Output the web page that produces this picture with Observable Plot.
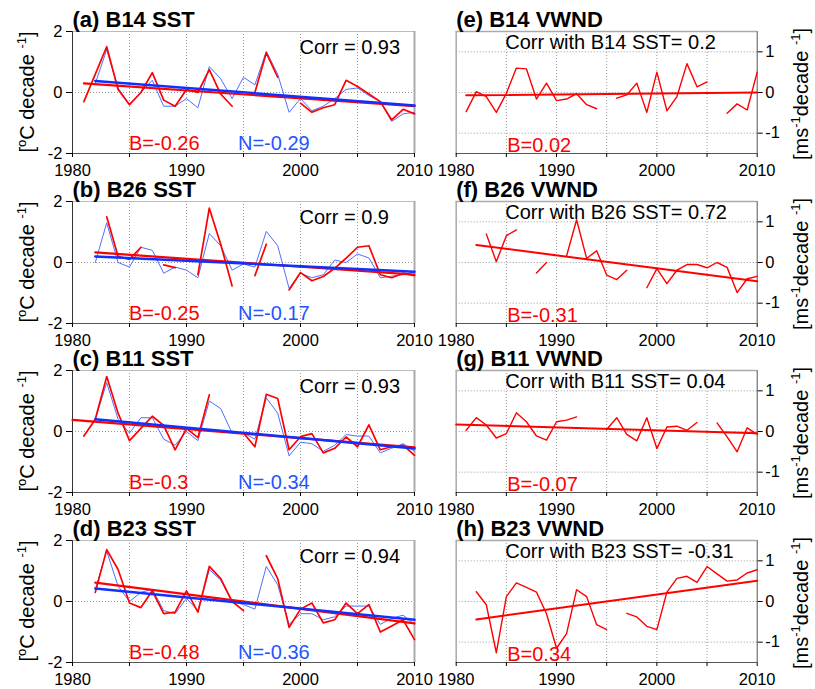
<!DOCTYPE html>
<html><head><meta charset="utf-8">
<script src="https://cdn.jsdelivr.net/npm/d3@7"></script>
<script src="https://cdn.jsdelivr.net/npm/@observablehq/plot@0.6"></script>
<style>
body{margin:0;background:#fff;}
#wrap{position:relative;width:815px;height:689px;overflow:hidden;background:#fff;font-family:"Liberation Sans",Arial,Helvetica,sans-serif;color:#000;}
#wrap svg{position:absolute;overflow:visible;}
.ylab{position:absolute;white-space:nowrap;font-size:20px;line-height:1;transform:translate(-50%,-50%) rotate(-90deg);}
.ylab .sp{font-size:13px;position:relative;top:-8px;}
</style>
</head><body>
<div id="wrap"></div>
<script>
// ---------- data ----------
const years = [1980,1981,1982,1983,1984,1985,1986,1987,1988,1989,1990,1991,1992,1993,1994,1995,1996,1997,1998,1999,2000,2001,2002,2003,2004,2005,2006,2007,2008,2009,2010];
const tickYears = [1980,1985,1990,1995,2000,2005,2010];
const labelYears = [1980,1990,2000,2010];
const gridYears = [1985,1990,1995,2000,2005];
const sstTicks = [-2,0,2];
const vwndTicks = [-1,0,1];

// (a) B14 SST
const a_B = [null,-0.3,0.6,1.5,0.1,-0.4,0.0,0.65,-0.25,-0.45,0.1,0.0,0.75,-0.05,-0.45,null,0.0,1.3,0.5,null,-0.35,-0.65,-0.5,-0.4,0.4,0.2,-0.05,-0.3,-0.9,-0.55,-0.7];
const a_N = [null,null,0.3,1.4,0.15,-0.4,0.0,0.4,-0.45,-0.45,-0.2,-0.5,0.85,0.45,-0.2,0.5,0.25,1.35,0.6,-0.65,-0.2,-0.6,-0.45,-0.2,0.1,0.15,-0.1,-0.3,-0.95,-0.7,-0.65];
const a_trendB = [[1981,0.3],[2010,-0.45]];
const a_trendN = [[1982,0.38],[2010,-0.43]];
// (b) B26 SST
const b_B = [null,null,null,1.5,0.2,0.1,0.5,null,-0.08,-0.17,null,-0.4,1.78,0.6,-0.77,null,-0.43,0.6,null,-0.9,-0.33,-0.6,-0.46,-0.19,0.14,0.5,0.55,-0.4,-0.5,-0.35,-0.43];
const b_N = [null,null,0.0,1.3,0.0,-0.15,0.5,0.4,-0.35,-0.15,-0.25,-0.5,0.95,0.55,-0.25,-0.05,-0.15,1.02,0.55,-0.85,-0.35,-0.5,-0.4,0.08,0.0,0.28,0.15,-0.5,-0.45,-0.4,-0.3];
const b_trendB = [[1982,0.33],[2010,-0.4]];
const b_trendN = [[1982,0.2],[2010,-0.3]];
// (c) B11 SST
const c_B = [null,-0.15,0.4,1.8,0.6,-0.3,0.1,0.5,0.2,-0.6,0.1,-0.2,1.2,null,null,-0.05,-0.5,1.22,1.08,-0.6,-0.17,-0.07,-0.7,-0.55,-0.18,-0.5,0.22,-0.6,-0.5,-0.45,-0.78];
const c_N = [null,null,0.4,1.6,0.4,-0.05,0.45,0.45,-0.25,-0.45,0.0,-0.3,1.0,0.75,-0.05,-0.05,-0.25,1.1,0.6,-0.8,-0.35,-0.4,-0.65,-0.45,-0.1,-0.15,-0.15,-0.7,-0.55,-0.4,-0.65];
const c_trendB = [[1980,0.38],[2010,-0.52]];
const c_trendN = [[1982,0.4],[2010,-0.56]];
// (d) B23 SST
const d_B = [null,null,0.3,1.7,1.05,-0.05,-0.2,0.35,-0.4,-0.35,0.35,-0.35,1.15,0.75,0.0,-0.3,null,1.5,0.75,-0.85,-0.25,-0.05,-0.7,-0.6,-0.05,-0.4,-0.1,-1.0,-0.8,-0.6,-1.25];
const d_N = [null,null,0.4,1.65,0.5,0.0,0.3,0.4,-0.3,-0.4,0.1,-0.3,1.05,0.7,0.0,-0.1,-0.25,1.15,0.55,-0.75,-0.4,-0.4,-0.6,-0.5,-0.15,-0.15,-0.15,-0.75,-0.55,-0.45,-0.75];
const d_trendB = [[1982,0.62],[2010,-0.72]];
const d_trendN = [[1982,0.43],[2010,-0.6]];
// (e) B14 VWND
const e_B = [null,-0.47,0.02,-0.1,-0.49,-0.02,0.6,0.58,-0.16,0.23,-0.2,-0.16,-0.03,-0.3,-0.4,null,-0.14,-0.06,0.23,-0.49,0.5,-0.45,-0.1,0.71,0.14,0.26,null,-0.51,-0.28,-0.43,0.5];
const e_trend = [[1981,-0.07],[2010,0.0]];
// (f) B26 VWND
const f_B = [null,null,null,0.7,0.02,0.66,0.8,null,-0.26,0.0,null,0.16,1.05,0.1,0.29,-0.31,-0.42,-0.19,null,-0.62,-0.15,-0.52,-0.19,-0.05,-0.05,-0.13,0.0,-0.12,-0.74,-0.4,-0.34];
const f_trend = [[1982,0.43],[2010,-0.46]];
// (g) B11 VWND
const g_B = [null,0.03,0.34,0.16,-0.16,-0.05,0.46,0.24,-0.11,-0.21,0.24,0.28,0.36,null,null,0.05,0.34,-0.07,-0.23,0.34,-0.42,0.11,0.13,0.03,0.22,null,0.21,-0.13,-0.5,0.09,-0.07];
const g_trend = [[1980,0.17],[2010,-0.04]];
// (h) B23 VWND
const h_B = [null,null,0.24,-0.08,-1.26,0.12,0.46,0.35,0.23,-0.3,-1.15,-0.79,0.29,0.12,-0.57,-0.69,null,-0.29,-0.38,-0.61,-0.69,0.23,0.57,0.62,0.47,0.86,0.68,0.5,0.53,0.7,0.78];
const h_trend = [[1982,-0.44],[2010,0.51]];

const sstTitles = ["(a) B14 SST","(b) B26 SST","(c) B11 SST","(d) B23 SST"];
const sstCorr = ["Corr = 0.93","Corr = 0.9","Corr = 0.93","Corr = 0.94"];
const sstBLabels = ["B=-0.26","B=-0.25","B=-0.3","B=-0.48"];
const sstNLabels = ["N=-0.29","N=-0.17","N=-0.34","N=-0.36"];
const vwndTitles = ["(e) B14 VWND","(f) B26 VWND","(g) B11 VWND","(h) B23 VWND"];
const vwndCorr = ["Corr with B14 SST= 0.2","Corr with B26 SST= 0.72","Corr with B11 SST= 0.04","Corr with B23 SST= -0.31"];
const vwndBLabels = ["B=0.02","B=-0.31","B=-0.07","B=0.34"];

const sstB = [a_B,b_B,c_B,d_B], sstN = [a_N,b_N,c_N,d_N];
const sstTrB = [a_trendB,b_trendB,c_trendB,d_trendB], sstTrN = [a_trendN,b_trendN,c_trendN,d_trendN];
const vwB = [e_B,f_B,g_B,h_B], vwTr = [e_trend,f_trend,g_trend,h_trend];

// ---------- drawing ----------
const RED = "#ff0000", BLUE_THIN = "#4f6fff", BLUE_TREND = "#1030ff", BLUE_TEXT = "#2255ff";
const GRID = {stroke:"#999", strokeDasharray:"1,2", strokeWidth:1};
const FONT = "'Liberation Sans', Arial, Helvetica, sans-serif";
const TICKFS = 16.5;
const STEP = 169.5;
const wrap = document.getElementById("wrap");
const num = v => v == null ? NaN : v;
const pts = arr => arr.map(([x,y]) => ({x, y}));
const fmtYear = d => labelYears.includes(d) ? String(d) : "";

function sstPanel(i){
  const rows = years.map((yr,k) => ({year: yr, b: num(sstB[i][k]), n: num(sstN[i][k])}));
  return Plot.plot({
    width: 420, height: 184, marginLeft: 72, marginRight: 6, marginTop: 31, marginBottom: 31,
    x: {domain: [1980, 2010]}, y: {domain: [-2, 2]},
    style: {fontFamily: FONT, fontSize: TICKFS + "px", color: "#000", background: "transparent", overflow: "visible"},
    marks: [
      Plot.ruleX(gridYears, GRID),
      Plot.ruleY([0], GRID),
      Plot.ruleY([2], {stroke: "#bbb"}),
      Plot.ruleX([2010], {stroke: "#aaa", strokeWidth: 2}),
      Plot.ruleX([1980], {stroke: "#333"}),
      Plot.ruleY([-2], {stroke: "#555"}),
      Plot.axisY({ticks: sstTicks, tickSize: 6, tickPadding: 4, fontSize: TICKFS, label: null, tickFormat: d => String(d)}),
      Plot.axisX({ticks: tickYears, tickSize: 4, tickPadding: 7, fontSize: TICKFS, label: null, tickFormat: fmtYear}),
      Plot.line(rows, {x: "year", y: "n", stroke: BLUE_THIN, strokeWidth: 1}),
      Plot.line(rows, {x: "year", y: "b", stroke: RED, strokeWidth: 1.7}),
      Plot.line(pts(sstTrB[i]), {x: "x", y: "y", stroke: RED, strokeWidth: 2.2}),
      Plot.line(pts(sstTrN[i]), {x: "x", y: "y", stroke: BLUE_TREND, strokeWidth: 2.5}),
      Plot.text([sstTitles[i]], {text: d => d, frameAnchor: "top-left", textAnchor: "start", lineAnchor: "bottom", dy: -5, fontSize: 22, fontWeight: "bold"}),
      Plot.text([sstCorr[i]], {text: d => d, frameAnchor: "top-left", textAnchor: "start", lineAnchor: "bottom", dx: 227, dy: 22, fontSize: 20}),
      Plot.text([sstBLabels[i]], {text: d => d, frameAnchor: "bottom-left", textAnchor: "start", lineAnchor: "bottom", dx: 56.5, dy: -3.5, fontSize: 20, fill: RED}),
      Plot.text([sstNLabels[i]], {text: d => d, frameAnchor: "bottom-left", textAnchor: "start", lineAnchor: "bottom", dx: 165.5, dy: -3.5, fontSize: 20, fill: BLUE_TEXT})
    ]
  });
}

function vwndPanel(i){
  const rows = years.map((yr,k) => ({year: yr, b: num(vwB[i][k])}));
  return Plot.plot({
    width: 395, height: 184, marginLeft: 35.7, marginRight: 58.3, marginTop: 31, marginBottom: 31,
    x: {domain: [1980, 2010]}, y: {domain: [-1.5, 1.5]},
    style: {fontFamily: FONT, fontSize: TICKFS + "px", color: "#000", background: "transparent", overflow: "visible"},
    marks: [
      Plot.ruleX(gridYears, GRID),
      Plot.ruleY(vwndTicks, GRID),
      Plot.ruleY([1.5], {stroke: "#aaa", strokeWidth: 1.5}),
      Plot.ruleX([1980], {stroke: "#aaa", strokeWidth: 1.5}),
      Plot.ruleX([2010], {stroke: "#555"}),
      Plot.ruleY([-1.5], {stroke: "#555"}),
      Plot.axisY({anchor: "right", ticks: vwndTicks, tickSize: 5, tickPadding: 3, fontSize: TICKFS, label: null, tickFormat: d => String(d)}),
      Plot.axisX({ticks: tickYears, tickSize: 4, tickPadding: 7, fontSize: TICKFS, label: null, tickFormat: fmtYear}),
      Plot.line(pts(vwTr[i]), {x: "x", y: "y", stroke: RED, strokeWidth: 2}),
      Plot.line(rows, {x: "year", y: "b", stroke: RED, strokeWidth: 1.4}),
      Plot.text([vwndTitles[i]], {text: d => d, frameAnchor: "top-left", textAnchor: "start", lineAnchor: "bottom", dy: -5, fontSize: 22, fontWeight: "bold"}),
      Plot.text([vwndCorr[i]], {text: d => d, frameAnchor: "top-left", textAnchor: "start", lineAnchor: "bottom", dx: 49, dy: 17, fontSize: 20}),
      Plot.text([vwndBLabels[i]], {text: d => d, frameAnchor: "bottom-left", textAnchor: "start", lineAnchor: "bottom", dx: 51, dy: -2, fontSize: 20, fill: RED})
    ]
  });
}

for (let i = 0; i < 4; i++) {
  const top = i * STEP;
  const l = sstPanel(i);
  l.style.left = "0px"; l.style.top = top + "px";
  wrap.appendChild(l);
  const r = vwndPanel(i);
  r.style.left = "420px"; r.style.top = top + "px";
  wrap.appendChild(r);

  const yl = document.createElement("div");
  yl.className = "ylab";
  yl.style.left = "27px"; yl.style.top = (92 + top) + "px";
  yl.innerHTML = "[<span class='sp'>o</span>C decade <span class='sp'>-1</span>]";
  wrap.appendChild(yl);

  const yr = document.createElement("div");
  yr.className = "ylab";
  yr.style.left = "801px"; yr.style.top = (94 + top) + "px";
  yr.innerHTML = "[ms<span class='sp'>-1</span>decade <span class='sp'>-1</span>]";
  wrap.appendChild(yr);
}
</script>
</body></html>
